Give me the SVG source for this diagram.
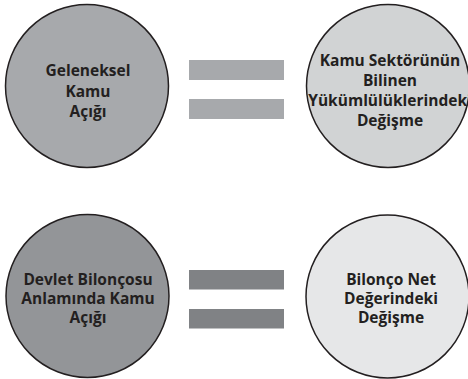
<svg xmlns="http://www.w3.org/2000/svg" width="468" height="379" viewBox="0 0 468 379">
<style>
.c{stroke:#231f20;stroke-width:1.5}
.t{font-family:"Open Sans","Noto Sans","Liberation Sans",sans-serif;font-weight:700;font-size:15.5px;fill:#231f20;text-anchor:middle}
</style>
<rect width="468" height="379" fill="#ffffff"/>
<g id="n1"><circle class="c" cx="87" cy="86" r="81.5" fill="#a7a9ac"/>
<text class="t"><tspan x="88" y="76">Geleneksel</tspan><tspan x="88" y="96.5">Kamu</tspan><tspan x="88" y="116.5">Açığı</tspan></text></g>
<g id="n2"><circle class="c" cx="388" cy="86" r="81.5" fill="#d1d3d4"/>
<text class="t"><tspan x="390" y="66">Kamu Sektörünün</tspan><tspan x="390" y="86">Bilinen</tspan><tspan x="390" y="105.5">Yükümlülüklerindeki</tspan><tspan x="390" y="125.5">Değişme</tspan></text></g>
<g id="n3"><circle class="c" cx="87.5" cy="296" r="81.5" fill="#939598"/>
<text class="t"><tspan x="88" y="285">Devlet Bilonçosu</tspan><tspan x="88" y="304">Anlamında Kamu</tspan><tspan x="88" y="323">Açığı</tspan></text></g>
<g id="n4"><circle class="c" cx="387.5" cy="296.5" r="81.5" fill="#e6e7e8"/>
<text class="t"><tspan x="391" y="285">Bilonço Net</tspan><tspan x="391" y="304">Değerindeki</tspan><tspan x="391" y="323">Değişme</tspan></text></g>
<g id="connectors">
<rect x="189" y="60" width="95" height="20" fill="#a7a9ac"/>
<rect x="189" y="99" width="95" height="20" fill="#a7a9ac"/>
<rect x="189" y="270" width="95" height="19.5" fill="#808285"/>
<rect x="189" y="309" width="95" height="19.5" fill="#808285"/>
</g>
</svg>
